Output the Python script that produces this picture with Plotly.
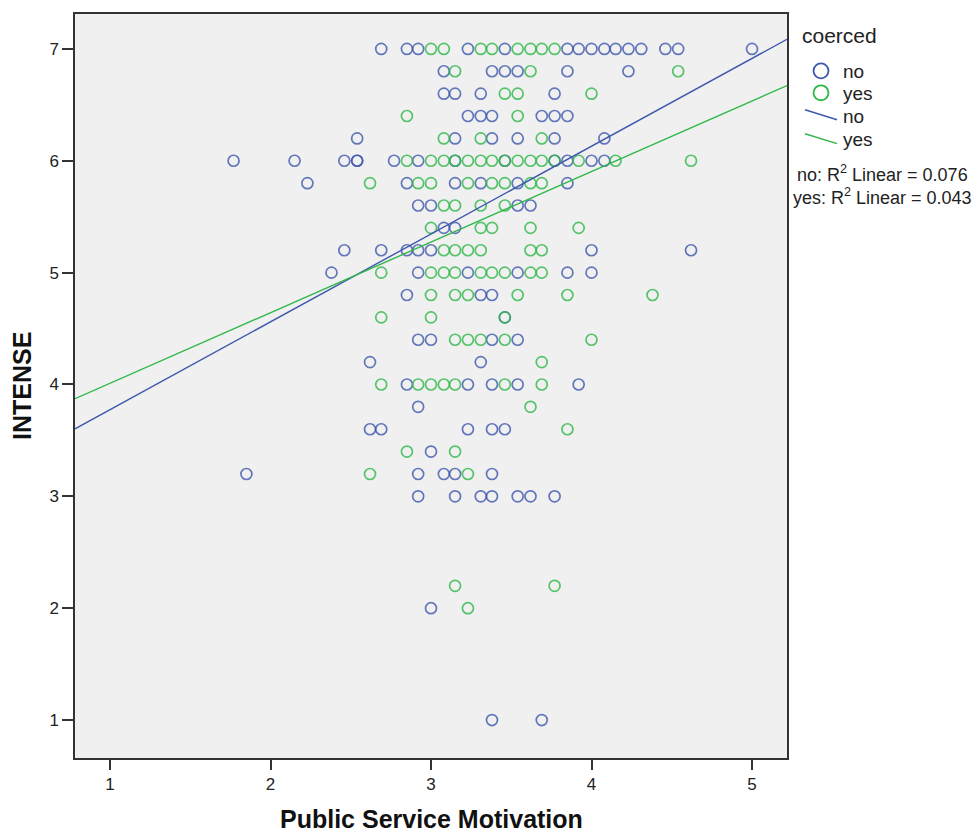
import plotly.graph_objects as go

# ---------------- data ----------------
# coerced = no
psm_no = [
    2.69, 2.85, 2.92, 3.23, 3.46, 3.85, 3.92, 4.00, 4.08, 4.15, 4.23, 4.31, 4.46, 4.54, 5.00,
    3.08, 3.38, 3.46, 3.54, 3.85, 4.23,
    3.08, 3.15, 3.31, 3.77,
    3.23, 3.31, 3.38, 3.69, 3.77, 3.85,
    2.54, 3.15, 3.38, 3.54, 3.77, 4.08,
    1.77, 2.15, 2.46, 2.54, 2.54, 2.77, 2.92, 3.15, 3.46, 3.77, 3.85, 4.00, 4.08,
    2.23, 2.85, 3.15, 3.31, 3.54, 3.85,
    2.92, 3.00, 3.54, 3.62,
    3.08, 3.15,
    2.46, 2.69, 2.85, 2.92, 3.00, 4.00, 4.62,
    2.38, 2.92, 3.23, 3.54, 3.85, 4.00,
    2.85, 3.31, 3.38,
    3.46,
    2.92, 3.00, 3.38, 3.54,
    2.62, 3.31,
    2.85, 3.23, 3.38, 3.54, 3.92,
    2.92,
    2.62, 2.69, 3.23, 3.38, 3.46,
    3.00,
    1.85, 2.92, 3.08, 3.15, 3.38,
    2.92, 3.15, 3.31, 3.38, 3.54, 3.62, 3.77,
    3.00,
    3.38, 3.69,
]
intense_no = (
    [7.0] * 15 + [6.8] * 6 + [6.6] * 4 + [6.4] * 6 + [6.2] * 6 + [6.0] * 13 +
    [5.8] * 6 + [5.6] * 4 + [5.4] * 2 + [5.2] * 7 + [5.0] * 6 + [4.8] * 3 +
    [4.6] * 1 + [4.4] * 4 + [4.2] * 2 + [4.0] * 5 + [3.8] * 1 + [3.6] * 5 +
    [3.4] * 1 + [3.2] * 5 + [3.0] * 7 + [2.0] * 1 + [1.0] * 2
)

# coerced = yes
psm_yes = [
    3.00, 3.08, 3.31, 3.38, 3.54, 3.62, 3.69, 3.77,
    3.15, 3.62, 4.54,
    3.46, 3.54, 4.00,
    2.85, 3.54,
    3.08, 3.31, 3.69,
    2.85, 3.00, 3.08, 3.15, 3.23, 3.31, 3.38, 3.46, 3.54, 3.62, 3.69, 3.77, 3.92, 4.15, 4.62,
    2.62, 2.92, 3.00, 3.23, 3.38, 3.46, 3.62, 3.69,
    3.08, 3.15, 3.31, 3.46,
    3.00, 3.31, 3.38, 3.62, 3.92,
    3.08, 3.15, 3.23, 3.31, 3.62, 3.69,
    2.69, 3.00, 3.08, 3.15, 3.31, 3.38, 3.46, 3.62, 3.69,
    3.00, 3.15, 3.23, 3.54, 3.85, 4.38,
    2.69, 3.00, 3.46,
    3.15, 3.23, 3.31, 3.46, 4.00,
    3.69,
    2.69, 2.92, 3.00, 3.08, 3.15, 3.46, 3.69,
    3.62,
    3.85,
    2.85, 3.15,
    2.62, 3.23,
    3.15, 3.77,
    3.23,
]
intense_yes = (
    [7.0] * 8 + [6.8] * 3 + [6.6] * 3 + [6.4] * 2 + [6.2] * 3 + [6.0] * 15 +
    [5.8] * 8 + [5.6] * 4 + [5.4] * 5 + [5.2] * 6 + [5.0] * 9 + [4.8] * 6 +
    [4.6] * 3 + [4.4] * 5 + [4.2] * 1 + [4.0] * 7 + [3.8] * 1 + [3.6] * 1 +
    [3.4] * 2 + [3.2] * 2 + [2.2] * 2 + [2.0] * 1
)

# fit lines: (intercept, slope)
fit_no = [2.99, 0.785]
fit_yes = [3.38, 0.631]
r2_labels = ["no: R<sup>2</sup> Linear = 0.076", "yes: R<sup>2</sup> Linear = 0.043"]

x_range = [0.782, 5.218]
y_range = [0.661, 7.312]
x_ticks = [1, 2, 3, 4, 5]
y_ticks = [1, 2, 3, 4, 5, 6, 7]

BLUE = "rgb(62,88,172)"
GREEN = "rgb(46,184,72)"
FONT = "Liberation Sans, Arial, sans-serif"

fig = go.Figure()

for xs, ys, col in [(psm_no, intense_no, BLUE), (psm_yes, intense_yes, GREEN)]:
    fig.add_trace(go.Scatter(
        x=xs, y=ys, mode="markers",
        marker=dict(symbol="circle-open", size=11, color=col, opacity=0.8,
                    line=dict(width=1.7, color=col)),
        showlegend=False, hoverinfo="x+y",
    ))

for (b0, b1), col in [(fit_no, BLUE), (fit_yes, GREEN)]:
    fig.add_trace(go.Scatter(
        x=x_range, y=[b0 + b1 * x_range[0], b0 + b1 * x_range[1]],
        mode="lines", line=dict(color=col, width=1.4),
        showlegend=False, hoverinfo="skip",
    ))

# ---------- layout ----------
L, R, T, B = 75, 189, 12, 77
W, H = 976, 835
pw, ph = W - L - R, H - T - B

def px2paper_x(px):
    return (px - L) / pw

def py2paper_y(py):
    return (H - B - py) / ph

fig.update_layout(
    width=W, height=H,
    margin=dict(l=L, r=R, t=T, b=B, pad=0),
    paper_bgcolor="white", plot_bgcolor="#F0F0F0",
    font=dict(family=FONT, color="#222222", size=16),
    showlegend=False,
    xaxis=dict(range=x_range, tickvals=x_ticks, showgrid=False, zeroline=False,
               showline=True, linecolor="#333333", linewidth=1.5, mirror=True,
               ticks="outside", ticklen=10, tickwidth=1.5, tickcolor="#333333",
               tickfont=dict(size=17, color="#222222")),
    yaxis=dict(range=y_range, tickvals=y_ticks, showgrid=False, zeroline=False,
               showline=True, linecolor="#333333", linewidth=1.5, mirror=True,
               ticks="outside", ticklen=11, tickwidth=1.5, tickcolor="#333333",
               tickfont=dict(size=17, color="#222222")),
)

ann = []
# axis titles
ann.append(dict(text="<b>Public Service Motivation</b>", xref="paper", yref="paper",
                x=0.5, y=py2paper_y(819), xanchor="center", yanchor="middle",
                showarrow=False, font=dict(size=25, color="#111111", family=FONT)))
ann.append(dict(text="<b>INTENSE</b>", xref="paper", yref="paper",
                x=px2paper_x(22), y=0.5, xanchor="center", yanchor="middle", textangle=-90,
                showarrow=False, font=dict(size=25, color="#111111", family=FONT)))

# legend
ann.append(dict(text="coerced", xref="paper", yref="paper", x=px2paper_x(800), y=py2paper_y(34),
                xanchor="left", yanchor="middle", showarrow=False,
                font=dict(size=21, color="#222222", family=FONT)))
for label, py in [("no", 70), ("yes", 92), ("no", 115), ("yes", 138)]:
    ann.append(dict(text=label, xref="paper", yref="paper", x=px2paper_x(841), y=py2paper_y(py),
                    xanchor="left", yanchor="middle", showarrow=False,
                    font=dict(size=19, color="#222222", family=FONT)))
for txt, py in zip(r2_labels, [172, 195]):
    ann.append(dict(text=txt, xref="paper", yref="paper", x=px2paper_x(882), y=py2paper_y(py),
                    xanchor="center", yanchor="middle", showarrow=False,
                    font=dict(size=18, color="#222222", family=FONT)))
fig.update_layout(annotations=ann)

shapes = []
for cy, col in [(69, BLUE), (91, GREEN)]:
    r = 7.5
    shapes.append(dict(type="circle", xref="paper", yref="paper",
                       x0=px2paper_x(821 - r), x1=px2paper_x(821 + r),
                       y0=py2paper_y(cy + r), y1=py2paper_y(cy - r),
                       line=dict(color=col, width=1.8)))
for (x0, y0, x1, y1), col in [((805, 108, 837, 118), BLUE), ((805, 132, 837, 142), GREEN)]:
    shapes.append(dict(type="line", xref="paper", yref="paper",
                       x0=px2paper_x(x0), y0=py2paper_y(y0), x1=px2paper_x(x1), y1=py2paper_y(y1),
                       line=dict(color=col, width=1.5)))
fig.update_layout(shapes=shapes)

fig.write_html("out.html")
